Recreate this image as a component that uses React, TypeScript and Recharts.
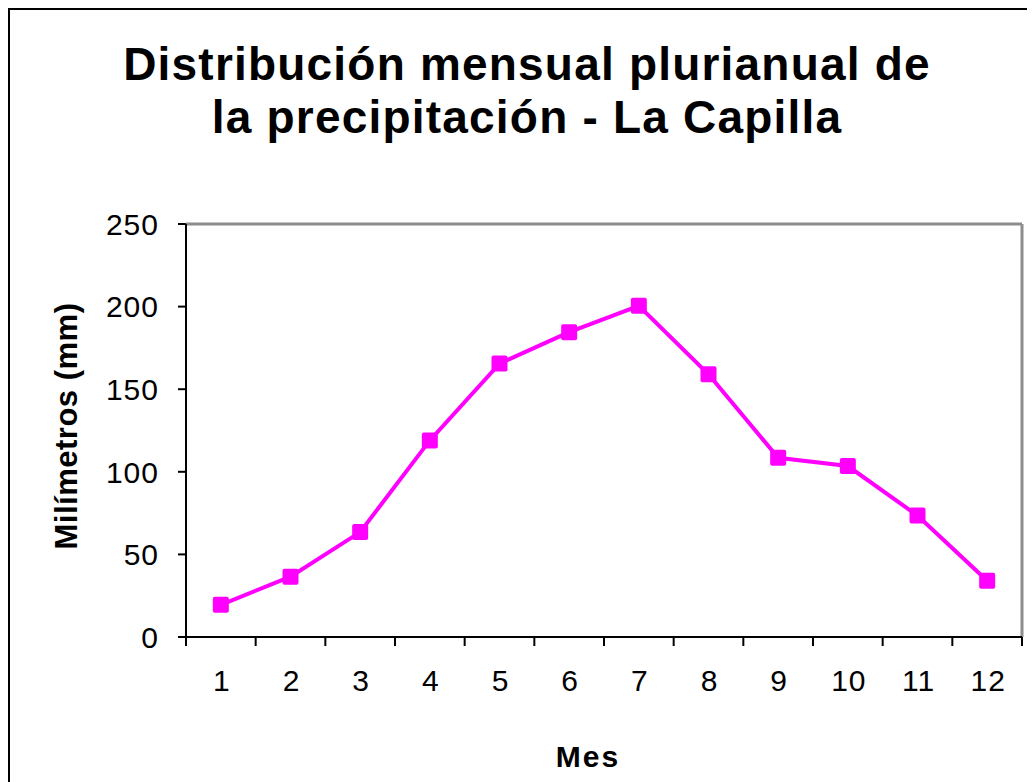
import { LineChart, Line, XAxis, YAxis, ReferenceLine, Label } from "recharts";

const meses = [1, 2, 3, 4, 5, 6, 7, 8, 9, 10, 11, 12];
const precipitacion = [19.5, 36.5, 63.5, 119, 165.5, 184.5, 200.5, 159, 108.5, 103.5, 73.5, 34];
const yTicks = [0, 50, 100, 150, 200, 250];
const tituloLineas = ["Distribución mensual plurianual de", "la precipitación - La Capilla"];

const data = meses.map((m, i) => ({ mes: m, mm: precipitacion[i] }));

const FONT = '"Liberation Sans", Arial, sans-serif';
const W = 1025;
const H = 780;
const PLOT_LEFT = 176;
const PLOT_RIGHT = 1012;
const PLOT_TOP = 214;
const PLOT_BOTTOM = 627;
const catW = (PLOT_RIGHT - PLOT_LEFT) / meses.length;

function MesTick(props: any) {
  const { x, payload, index } = props;
  return (
    <g>
      <line x1={x - catW / 2} x2={x - catW / 2} y1={PLOT_BOTTOM} y2={PLOT_BOTTOM + 9} stroke="#000" strokeWidth={2} />
      {index === meses.length - 1 && (
        <line x1={x + catW / 2} x2={x + catW / 2} y1={PLOT_BOTTOM} y2={PLOT_BOTTOM + 9} stroke="#000" strokeWidth={2} />
      )}
      <text x={x + 1} y={681} textAnchor="middle" fontSize={30} letterSpacing={1} fontFamily={FONT} fill="#000">
        {payload.value}
      </text>
    </g>
  );
}

function MmTick(props: any) {
  const { x, y, payload } = props;
  return (
    <text x={x + 1} y={y} dy="0.36em" textAnchor="end" fontSize={30} letterSpacing={1} fontFamily={FONT} fill="#000">
      {payload.value}
    </text>
  );
}

function Cuadro(props: any) {
  const { cx, cy } = props;
  if (cx == null || cy == null) return null;
  return <rect x={cx - 8} y={cy - 8} width={16} height={16} rx={2} fill="#FF00FF" />;
}

export default function App() {
  return (
    <div
      style={{
        position: "relative",
        width: W,
        height: H,
        borderLeft: "2px solid #000",
        borderTop: "2px solid #000",
        background: "#fff",
        fontFamily: FONT,
      }}
    >
      <style>{`html, body { overflow: hidden; }`}</style>
      <svg width={W} height={150} style={{ position: "absolute", left: 0, top: 0 }}>
        {tituloLineas.map((t, i) => (
          <text
            key={i}
            x={517}
            y={70 + i * 53}
            textAnchor="middle"
            fontSize={46}
            fontWeight="bold"
            letterSpacing={1.2}
            fontFamily={FONT}
            fill="#000"
          >
            {t}
          </text>
        ))}
      </svg>
      <LineChart
        width={W}
        height={H}
        data={data}
        margin={{ top: PLOT_TOP, right: W - PLOT_RIGHT, left: 0, bottom: H - PLOT_BOTTOM - 60 }}
      >
        <XAxis
          dataKey="mes"
          type="number"
          domain={[0.5, 12.5]}
          ticks={meses}
          interval={0}
          height={60}
          tickLine={false}
          axisLine={{ stroke: "#000", strokeWidth: 2 }}
          tick={<MesTick />}
        >
          <Label
            content={() => (
              <text x={578} y={757} textAnchor="middle" fontSize={30} fontWeight="bold" letterSpacing={2} fontFamily={FONT} fill="#000">
                Mes
              </text>
            )}
          />
        </XAxis>
        <YAxis
          type="number"
          domain={[0, 250]}
          ticks={yTicks}
          interval={0}
          width={PLOT_LEFT}
          tickSize={8}
          tickMargin={20}
          tickLine={{ stroke: "#000", strokeWidth: 2 }}
          axisLine={{ stroke: "#000", strokeWidth: 2 }}
          tick={<MmTick />}
        >
          <Label
            content={() => (
              <text
                x={67}
                y={416}
                transform="rotate(-90 67 416)"
                textAnchor="middle"
                fontSize={31}
                fontWeight="bold"
                letterSpacing={0.5}
                fontFamily={FONT}
                fill="#000"
              >
                Milímetros (mm)
              </text>
            )}
          />
        </YAxis>
        <ReferenceLine y={250} stroke="#8c8c8c" strokeWidth={3} />
        <ReferenceLine x={12.5} stroke="#8c8c8c" strokeWidth={3} />
        <Line
          type="linear"
          dataKey="mm"
          stroke="#FF00FF"
          strokeWidth={4}
          dot={<Cuadro />}
          activeDot={false}
          isAnimationActive={false}
        />
      </LineChart>
    </div>
  );
}
